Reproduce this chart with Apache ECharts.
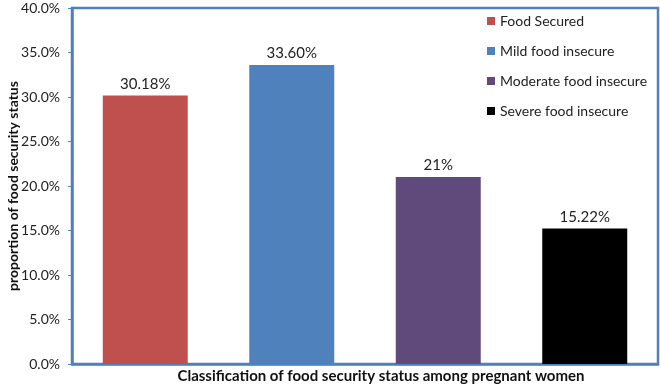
<!DOCTYPE html>
<html>
<head>
<meta charset="utf-8">
<script src="https://cdn.jsdelivr.net/npm/echarts@6/dist/echarts.min.js"></script>
<style>
html, body { margin: 0; padding: 0; background: #fff; }
#main { width: 660px; height: 387px; }
</style>
</head>
<body>
<div id="main"></div>
<script>
var categories = ['Food Secured', 'Mild food insecure', 'Moderate food insecure', 'Severe food insecure'];
var values = [30.18, 33.60, 21, 15.22];
var valueLabels = ['30.18%', '33.60%', '21%', '15.22%'];
var colors = ['#C0504D', '#4F81BD', '#604A7B', '#000000'];

var myChart = echarts.init(document.getElementById('main'));

// one series per category so each gets its own legend entry
var series = [];
for (var i = 0; i < categories.length; i++) {
    var d = [];
    for (var j = 0; j < categories.length; j++) {
        d.push(j == i ? values[i] : '-');
    }
    (function (idx) {
        series.push({
            name: categories[idx],
            type: 'bar',
            barWidth: '58%',
            barGap: '-100%',
            itemStyle: { color: colors[idx] },
            label: {
                show: true,
                position: 'top',
                distance: 4,
                color: '#222',
                fontSize: 15,
                fontFamily: 'Lato',
                formatter: function () { return valueLabels[idx]; }
            },
            data: d
        });
    }(i));
}

var option = {
    animation: false,
    textStyle: { fontFamily: 'Lato' },
    legend: {
        orient: 'vertical',
        left: 482,
        top: 9,
        itemWidth: 8,
        itemHeight: 8,
        itemGap: 16,
        icon: 'rect',
        textStyle: { fontSize: 14, color: '#222', fontFamily: 'Lato' },
        data: categories
    },
    grid: {
        left: 72,
        right: 2,
        top: 8,
        bottom: 23,
        outerBoundsMode: 'none',
        containLabel: false,
        show: true,
        borderColor: '#4F81BD',
        borderWidth: 2.5
    },
    xAxis: {
        type: 'category',
        data: categories,
        name: 'Classification of food security status among pregnant women',
        nameLocation: 'middle',
        nameGap: 5,
        nameMoveOverlap: false,
        nameTextStyle: { fontSize: 15, fontWeight: 'bold', color: '#111', fontFamily: 'Lato', verticalAlign: 'top', padding: [0, 0, 0, 32] },
        axisLabel: { show: false },
        axisTick: { show: false },
        axisLine: { lineStyle: { color: '#4F81BD', width: 2.5 } }
    },
    yAxis: {
        type: 'value',
        min: 0,
        max: 40,
        interval: 5,
        name: 'proportion of food security status',
        nameLocation: 'middle',
        nameGap: 52,
        nameMoveOverlap: false,
        nameTextStyle: { fontSize: 14, fontWeight: 'bold', color: '#111', fontFamily: 'Lato' },
        axisLine: { show: true, lineStyle: { color: '#4F81BD', width: 2.5 } },
        axisTick: { show: true, length: 4, lineStyle: { color: '#4F81BD' } },
        splitLine: { show: false },
        axisLabel: {
            fontSize: 14,
            color: '#222',
            margin: 12,
            formatter: function (v) { return v.toFixed(1) + '%'; }
        }
    },
    series: series
};

myChart.setOption(option, true);
</script>
</body>
</html>
